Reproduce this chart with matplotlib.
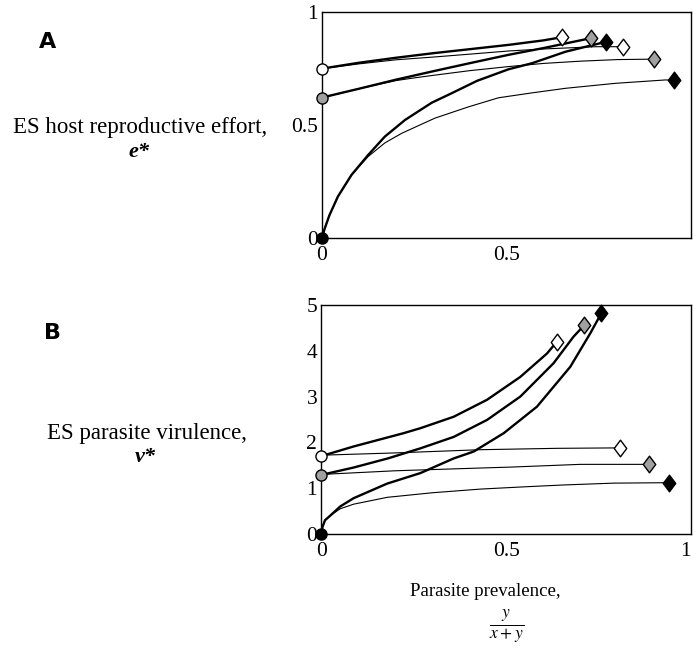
import matplotlib.pyplot as plt
from matplotlib.path import Path

# --- data ---
# Panel A: ES host reproductive effort e* vs parasite prevalence
a_thick_open_x = [0, 0.1, 0.2, 0.3, 0.4, 0.505, 0.6, 0.649]
a_thick_open_y = [0.749, 0.775, 0.797, 0.817, 0.835, 0.854, 0.874, 0.888]
a_thin_open_x = [0, 0.1, 0.2, 0.3, 0.4, 0.505, 0.6, 0.7, 0.741, 0.816]
a_thin_open_y = [0.749, 0.770, 0.788, 0.800, 0.813, 0.827, 0.836, 0.843, 0.846, 0.846]

a_thick_gray_x = [0, 0.1, 0.2, 0.3, 0.4, 0.505, 0.6, 0.729]
a_thick_gray_y = [0.621, 0.660, 0.700, 0.737, 0.773, 0.810, 0.840, 0.884]
a_thin_gray_x = [0, 0.1, 0.2, 0.25, 0.3, 0.4, 0.505, 0.6, 0.7, 0.8, 0.898]
a_thin_gray_y = [0.621, 0.660, 0.696, 0.708, 0.719, 0.740, 0.758, 0.772, 0.782, 0.789, 0.791]

a_thick_black_x = [0, 0.007, 0.02, 0.043, 0.08, 0.125, 0.17, 0.225, 0.297, 0.351, 0.42, 0.505, 0.569, 0.66, 0.77]
a_thick_black_y = [0, 0.04, 0.10, 0.183, 0.279, 0.367, 0.448, 0.522, 0.598, 0.640, 0.695, 0.746, 0.773, 0.824, 0.868]
a_thin_black_x = [0, 0.007, 0.02, 0.043, 0.08, 0.125, 0.17, 0.216, 0.306, 0.397, 0.478, 0.57, 0.66, 0.795, 0.931, 0.954]
a_thin_black_y = [0, 0.04, 0.10, 0.183, 0.279, 0.360, 0.420, 0.463, 0.530, 0.580, 0.620, 0.642, 0.662, 0.684, 0.699, 0.697]

# Panel B: ES parasite virulence v* vs parasite prevalence
b_thick_open_x = [0, 0.087, 0.222, 0.268, 0.358, 0.448, 0.538, 0.61, 0.637]
b_thick_open_y = [1.70, 1.91, 2.20, 2.31, 2.56, 2.93, 3.43, 3.94, 4.20]
b_thin_open_x = [0, 0.2, 0.43, 0.637, 0.808]
b_thin_open_y = [1.72, 1.77, 1.84, 1.87, 1.88]

b_thick_gray_x = [0, 0.087, 0.18, 0.268, 0.358, 0.448, 0.538, 0.628, 0.682, 0.711]
b_thick_gray_y = [1.29, 1.45, 1.65, 1.87, 2.12, 2.49, 3.00, 3.73, 4.31, 4.56]
b_thin_gray_x = [0, 0.2, 0.43, 0.511, 0.70, 0.885]
b_thin_gray_y = [1.30, 1.38, 1.44, 1.46, 1.52, 1.52]

b_thick_black_x = [0, 0.003, 0.01, 0.024, 0.051, 0.087, 0.178, 0.268, 0.358, 0.412, 0.493, 0.583, 0.673, 0.727, 0.757]
b_thick_black_y = [0, 0.15, 0.30, 0.40, 0.60, 0.78, 1.10, 1.33, 1.65, 1.80, 2.20, 2.78, 3.65, 4.38, 4.82]
b_thin_black_x = [0, 0.003, 0.01, 0.024, 0.051, 0.087, 0.178, 0.3, 0.43, 0.55, 0.655, 0.79, 0.941]
b_thin_black_y = [0, 0.15, 0.30, 0.40, 0.55, 0.65, 0.80, 0.90, 0.98, 1.03, 1.07, 1.11, 1.12]

plt.rcParams['font.family'] = ['Liberation Serif', 'DejaVu Serif']
plt.rcParams['mathtext.fontset'] = 'stix'

fig = plt.figure(figsize=(6.94, 6.5), dpi=100)
axA = fig.add_axes([0.464, 0.634, 0.532, 0.3477])
axB = fig.add_axes([0.463, 0.1785, 0.533, 0.3523])

GRAY = '#a0a0a0'
THICK = 1.7
THIN = 0.8
# diamond a bit taller than wide, like the printed one
DIAMOND = Path([(0, 1), (0.75, 0), (0, -1), (-0.75, 0), (0, 1)],
               [Path.MOVETO, Path.LINETO, Path.LINETO, Path.LINETO, Path.CLOSEPOLY])


def draw_pair(ax, tx, ty, nx_, ny_, fill):
    # thick curve and thin curve sharing the same starting point
    ax.plot(nx_, ny_, color='black', lw=THIN, clip_on=False, zorder=2)
    ax.plot(tx, ty, color='black', lw=THICK, clip_on=False, zorder=3)
    ax.plot(tx[-1], ty[-1], marker=DIAMOND, ms=12, mfc=fill, mec='black', mew=1.0,
            clip_on=False, zorder=5)
    ax.plot(nx_[-1], ny_[-1], marker=DIAMOND, ms=12, mfc=fill, mec='black', mew=1.0,
            clip_on=False, zorder=5)
    ax.plot(tx[0], ty[0], marker='o', ms=8, mfc=fill, mec='black', mew=1.0,
            clip_on=False, zorder=6)


draw_pair(axA, a_thick_open_x, a_thick_open_y, a_thin_open_x, a_thin_open_y, 'white')
draw_pair(axA, a_thick_gray_x, a_thick_gray_y, a_thin_gray_x, a_thin_gray_y, GRAY)
draw_pair(axA, a_thick_black_x, a_thick_black_y, a_thin_black_x, a_thin_black_y, 'black')

draw_pair(axB, b_thick_open_x, b_thick_open_y, b_thin_open_x, b_thin_open_y, 'white')
draw_pair(axB, b_thick_gray_x, b_thick_gray_y, b_thin_gray_x, b_thin_gray_y, GRAY)
draw_pair(axB, b_thick_black_x, b_thick_black_y, b_thin_black_x, b_thin_black_y, 'black')

axA.set_xlim(0, 1)
axA.set_ylim(0, 1)
axA.set_xticks([0, 0.5])
axA.set_xticklabels(['0', '0.5'])
axA.set_yticks([0, 0.5, 1])
axA.set_yticklabels(['0', '0.5', '1'])

axB.set_xlim(0, 1)
axB.set_ylim(0, 5)
axB.set_xticks([0, 0.5, 1])
axB.set_xticklabels(['0', '0.5', '1'])
axB.set_yticks([0, 1, 2, 3, 4, 5])

for ax in (axA, axB):
    ax.tick_params(length=0, labelsize=15.5)
    ax.tick_params(axis='x', pad=6)
    ax.tick_params(axis='y', pad=3)
    for s in ax.spines.values():
        s.set_linewidth(1.0)
# the "1" at the right edge would be cut off otherwise
axB.get_xticklabels()[-1].set_horizontalalignment('right')

# panel letters and axis titles
fig.text(48 / 694, 1 - 42 / 650, 'A', fontsize=16, fontweight='bold',
         family='DejaVu Sans', ha='center', va='center')
fig.text(52 / 694, 1 - 333 / 650, 'B', fontsize=16, fontweight='bold',
         family='DejaVu Sans', ha='center', va='center')

fig.text(140 / 694, 1 - 127 / 650, 'ES host reproductive effort,', fontsize=16.5,
         ha='center', va='center')
fig.text(139 / 694, 1 - 152 / 650, 'e*', fontsize=16, style='italic',
         fontweight='bold', ha='center', va='center')

fig.text(147 / 694, 1 - 433 / 650, 'ES parasite virulence,', fontsize=16.5,
         ha='center', va='center')
fig.text(145 / 694, 1 - 457 / 650, 'v*', fontsize=16, style='italic',
         fontweight='bold', ha='center', va='center')

fig.text(485 / 694, 1 - 592 / 650, 'Parasite prevalence,', fontsize=13.5,
         ha='center', va='center')
fig.text(507 / 694, 1 - 627 / 650, r'$\frac{y}{x+y}$', fontsize=18,
         ha='center', va='center')

fig.savefig('out.png', dpi=100)
